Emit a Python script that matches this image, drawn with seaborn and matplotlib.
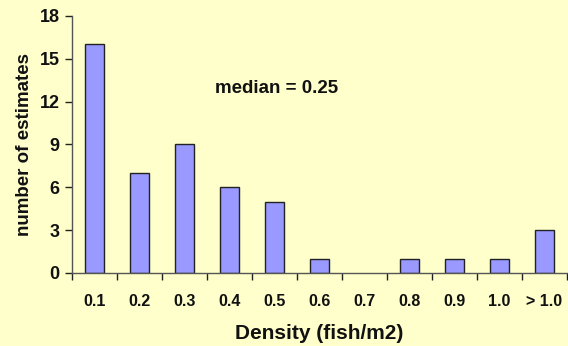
import matplotlib
matplotlib.use("Agg")
import matplotlib.pyplot as plt
import seaborn as sns
import pandas as pd
import numpy as np

# Density classes and number of estimates in each
categories = ["0.1", "0.2", "0.3", "0.4", "0.5", "0.6", "0.7", "0.8", "0.9", "1.0", "> 1.0"]
counts = [16, 7, 9, 6, 5, 1, 0, 1, 1, 1, 3]
y_ticks = [0, 3, 6, 9, 12, 15, 18]

df = pd.DataFrame({"density": categories, "count": counts})

sns.set_theme(style="white")
plt.rcParams["font.family"] = ["Liberation Sans", "DejaVu Sans"]
plt.rcParams["font.weight"] = "bold"

bg = "#FFFFCC"
fig = plt.figure(figsize=(5.68, 3.46), dpi=100, facecolor=bg)
ax = fig.add_axes([0.127, 0.211, 0.871, 0.743])
ax.set_facecolor(bg)

sns.barplot(data=df, x="density", y="count", order=categories, color="#9999FF",
            saturation=1, width=0.42, edgecolor="#222222", linewidth=1.0, ax=ax)

# An empty class shows no bar outline
for patch in ax.patches:
    if patch.get_height() == 0:
        patch.set_linewidth(0)

ax.set_xlim(-0.5, len(categories) - 0.5)
ax.set_ylim(0, 18)
ax.set_yticks(y_ticks)

for side in ["top", "right"]:
    ax.spines[side].set_visible(False)
for side in ["left", "bottom"]:
    ax.spines[side].set_color("#555555")
    ax.spines[side].set_linewidth(1.0)

# Category boundary tick marks on the x axis
ax.set_xticks(np.arange(-0.5, len(categories), 1.0), minor=True)
ax.tick_params(axis="x", which="major", bottom=True, length=0, pad=15, labelsize=11.5)
ax.tick_params(axis="x", which="minor", bottom=True, length=5, width=1, color="#222222",
               direction="out")
ax.tick_params(axis="y", which="major", left=True, length=5, width=1, color="#222222",
               direction="out", labelsize=13, pad=4)
for lbl in ax.get_xticklabels() + ax.get_yticklabels():
    lbl.set_fontweight("bold")
    lbl.set_color("#111111")

ax.set_xlabel("Density (fish/m2)", fontsize=15, fontweight="bold", labelpad=11, color="#111111")
ax.set_ylabel("number of estimates", fontsize=13.5, fontweight="bold", labelpad=5, color="#111111")

ax.text(4.05, 12.9, "median = 0.25", fontsize=13.5, fontweight="bold", ha="center", va="center",
        color="#111111")

fig.savefig("out.png", dpi=100, facecolor=bg)
